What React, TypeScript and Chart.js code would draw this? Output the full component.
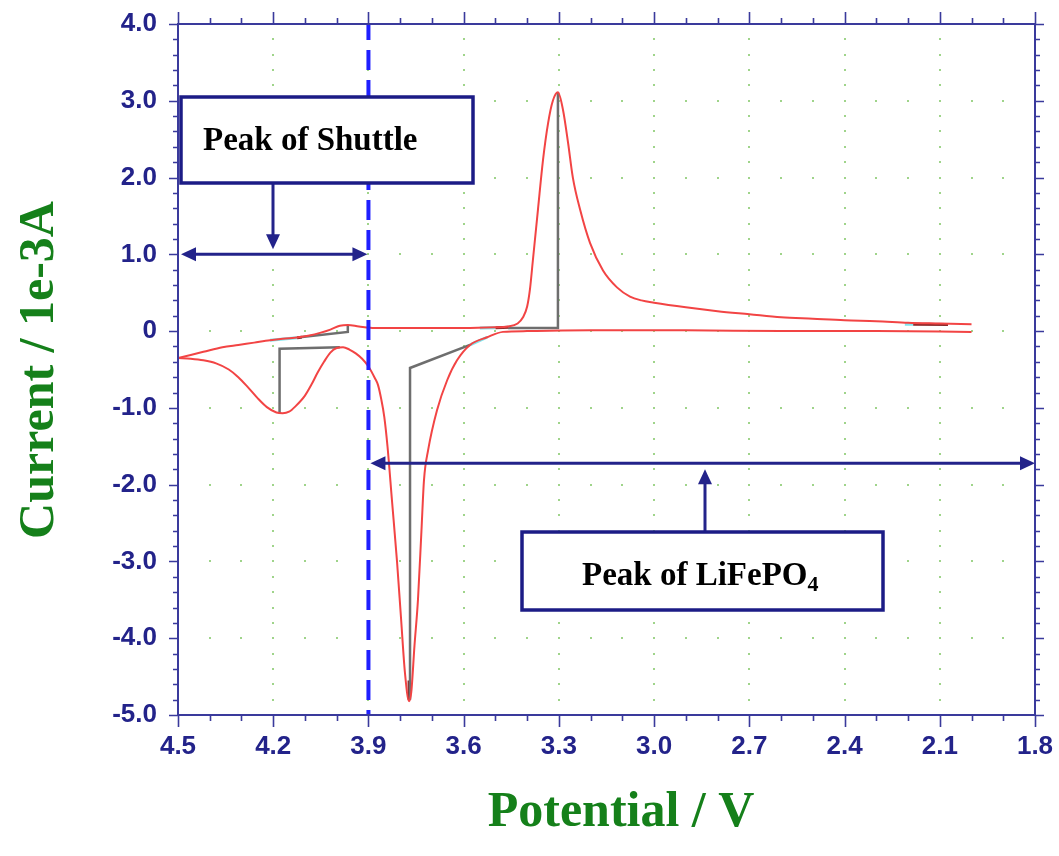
import React, { useEffect, useRef } from "react";
import { Chart, registerables } from "chart.js";

Chart.register(...registerables);

// Axis tick values
const xTicks = [4.5, 4.2, 3.9, 3.6, 3.3, 3.0, 2.7, 2.4, 2.1, 1.8];
const yTicks = [4, 3, 2, 1, 0, -1, -2, -3, -4, -5];

// Sweep from 4.5 V down to 2.0 V (cathodic branch)
const sweepDownPotential = [
  4.5, 4.46, 4.42, 4.38, 4.34, 4.31, 4.28, 4.25, 4.22, 4.19, 4.17, 4.15, 4.13, 4.1, 4.08, 4.06,
  4.04, 4.02, 4.0, 3.98, 3.96, 3.94, 3.92, 3.9, 3.88, 3.87, 3.86, 3.85, 3.84, 3.826, 3.81, 3.797,
  3.785, 3.772, 3.765, 3.755, 3.744, 3.733, 3.725, 3.712, 3.684, 3.652, 3.621, 3.58, 3.526, 3.476,
  3.4, 3.2, 2.9, 2.6, 2.3, 2.0,
];
const sweepDownCurrent = [
  -0.35, -0.36, -0.38, -0.42, -0.5, -0.6, -0.73, -0.87, -0.99, -1.06, -1.07, -1.05, -0.98, -0.84,
  -0.7, -0.54, -0.4, -0.28, -0.22, -0.21, -0.24, -0.29, -0.36, -0.46, -0.61, -0.7, -0.88, -1.12,
  -1.5, -2.2, -3.0, -3.76, -4.45, -4.82, -4.7, -4.1, -3.5, -2.6, -1.94, -1.55, -1.03, -0.64, -0.38,
  -0.18, -0.08, -0.01, 0.0, 0.01, 0.01, 0.0, 0.0, -0.01,
];

// Sweep from 2.0 V back up to 4.5 V (anodic branch)
const sweepUpPotential = [
  2.0, 2.1, 2.2, 2.3, 2.4, 2.5, 2.6, 2.7, 2.8, 2.9, 3.0, 3.04, 3.076, 3.117, 3.161, 3.202, 3.233,
  3.256, 3.271, 3.287, 3.303, 3.319, 3.334, 3.35, 3.366, 3.382, 3.391, 3.4, 3.413, 3.43, 3.46, 3.5,
  3.6, 3.7, 3.8, 3.88, 3.93, 3.965, 3.99, 4.02, 4.05, 4.09, 4.12, 4.17, 4.21, 4.26, 4.31, 4.36,
  4.42, 4.46, 4.5,
];
const sweepUpCurrent = [
  0.09, 0.1, 0.11, 0.13, 0.14, 0.16, 0.18, 0.22, 0.26, 0.31, 0.37, 0.4, 0.45, 0.57, 0.79, 1.15,
  1.58, 2.0, 2.45, 2.88, 3.11, 3.0, 2.71, 2.23, 1.58, 0.92, 0.55, 0.32, 0.18, 0.1, 0.06, 0.05,
  0.04, 0.04, 0.04, 0.04, 0.06, 0.08, 0.07, 0.02, -0.02, -0.06, -0.08, -0.1, -0.12, -0.15, -0.18,
  -0.21, -0.27, -0.31, -0.35,
];

// Peak baselines drawn by the analysis software (gray)
const baselinePotential = [4.18, 4.18, 3.99, null, 4.116, 3.965, 3.965, null, 3.769, 3.769, 3.58, null, 3.303, 3.303, 3.46];
const baselineCurrent = [-1.07, -0.23, -0.21, null, -0.08, -0.01, 0.08, null, -4.8, -0.48, -0.18, null, 3.11, 0.04, 0.04];

// Baseline anchor markers (cyan)
const anchorPotential = [4.21, 4.125, null, 3.58, 3.526, null, 3.549, 3.501, null, 2.21, 2.184];
const anchorCurrent = [-0.12, -0.085, null, -0.18, -0.08, null, 0.04, 0.045, null, 0.09, 0.088];

// Baseline anchor markers (dark red)
const anchorDarkPotential = [4.125, 4.11, null, 3.5, 3.455, null, 2.184, 2.074, null, 3.772, 3.772];
const anchorDarkCurrent = [-0.085, -0.08, null, 0.045, 0.05, null, 0.088, 0.085, null, -4.55, -4.8];

// Annotation positions (data units)
const shuttleRange = [4.5, 3.9];
const shuttleArrowLevel = 1.0;
const lfpRange = [3.9, 1.8];
const lfpArrowLevel = -1.72;
const dividerPotential = 3.9;

const zip = (xs: (number | null)[], ys: (number | null)[]) =>
  xs.map((x, i) => ({ x: x as number, y: ys[i] as number }));

const AXIS = "#3a3a9c";
const NAVY = "#23238a";
const TICK_FONT = { family: '"Liberation Sans", Arial, sans-serif', size: 26, weight: "bold" as const };

function drawArrowHead(ctx: CanvasRenderingContext2D, tx: number, ty: number, dx: number, dy: number) {
  const len = 15;
  const hw = 7;
  const l = Math.hypot(dx, dy);
  const ux = dx / l;
  const uy = dy / l;
  ctx.beginPath();
  ctx.moveTo(tx, ty);
  ctx.lineTo(tx - ux * len - uy * hw, ty - uy * len + ux * hw);
  ctx.lineTo(tx - ux * len + uy * hw, ty - uy * len - ux * hw);
  ctx.closePath();
  ctx.fill();
}

function drawArrow(ctx: CanvasRenderingContext2D, x1: number, y1: number, x2: number, y2: number, both: boolean) {
  const dx = x2 - x1;
  const dy = y2 - y1;
  const l = Math.hypot(dx, dy);
  const ux = dx / l;
  const uy = dy / l;
  ctx.beginPath();
  ctx.moveTo(both ? x1 + ux * 10 : x1, both ? y1 + uy * 10 : y1);
  ctx.lineTo(x2 - ux * 10, y2 - uy * 10);
  ctx.stroke();
  drawArrowHead(ctx, x2, y2, dx, dy);
  if (both) drawArrowHead(ctx, x1, y1, -dx, -dy);
}

const decorPlugin = {
  id: "decor",
  beforeDatasetsDraw(chart: any) {
    const { ctx, scales } = chart;
    const x = scales.x;
    const y = scales.y;
    ctx.save();
    ctx.fillStyle = "#9fd48a";
    for (const xv of xTicks) {
      if (xv === 4.5 || xv === 1.8) continue;
      const px = Math.round(x.getPixelForValue(xv));
      for (let k = -24; k <= 19; k++) {
        const py = Math.round(y.getPixelForValue(k * 0.2));
        ctx.fillRect(px - 1, py - 1, 2, 2);
      }
    }
    for (const yv of yTicks) {
      if (yv === 4 || yv === -5) continue;
      const py = Math.round(y.getPixelForValue(yv));
      for (let k = 19; k <= 44; k++) {
        const px = Math.round(x.getPixelForValue(k * 0.1));
        ctx.fillRect(px - 1, py - 1, 2, 2);
      }
    }
    ctx.restore();
  },
  afterDatasetsDraw(chart: any) {
    const { ctx, chartArea: a, scales } = chart;
    const x = scales.x;
    const y = scales.y;
    ctx.save();

    // dashed divider
    const dvx = x.getPixelForValue(dividerPotential);
    ctx.strokeStyle = "#1f1fff";
    ctx.lineWidth = 4;
    ctx.setLineDash([20, 10]);
    ctx.lineDashOffset = 4;
    ctx.beginPath();
    ctx.moveTo(dvx, a.top);
    ctx.lineTo(dvx, a.bottom);
    ctx.stroke();
    ctx.setLineDash([]);

    // arrows
    ctx.strokeStyle = NAVY;
    ctx.fillStyle = NAVY;
    ctx.lineWidth = 3;
    const sy = y.getPixelForValue(shuttleArrowLevel);
    drawArrow(ctx, x.getPixelForValue(shuttleRange[0]) + 3, sy, x.getPixelForValue(shuttleRange[1]) - 1, sy, true);
    drawArrow(ctx, 273, 183, 273, sy - 5, false);
    const ly = y.getPixelForValue(lfpArrowLevel);
    drawArrow(ctx, x.getPixelForValue(lfpRange[0]) + 2, ly, x.getPixelForValue(lfpRange[1]), ly, true);
    drawArrow(ctx, 705, 531, 705, ly + 6, false);

    // boxes
    ctx.lineWidth = 3.5;
    ctx.strokeStyle = "#1c1c86";
    ctx.fillStyle = "#ffffff";
    ctx.fillRect(181, 97, 292, 86);
    ctx.strokeRect(181, 97, 292, 86);
    ctx.fillRect(522, 532, 361, 78);
    ctx.strokeRect(522, 532, 361, 78);

    ctx.fillStyle = "#000000";
    ctx.textBaseline = "alphabetic";
    ctx.textAlign = "left";
    ctx.font = 'bold 33px "Liberation Serif", "Times New Roman", serif';
    ctx.fillText("Peak of Shuttle", 203, 150);
    const main = "Peak of LiFePO";
    ctx.fillText(main, 582, 585);
    const w = ctx.measureText(main).width;
    ctx.font = 'bold 22px "Liberation Serif", "Times New Roman", serif';
    ctx.fillText("4", 582 + w, 591);

    // frame
    ctx.strokeStyle = AXIS;
    ctx.lineWidth = 2;
    ctx.strokeRect(a.left, a.top, a.right - a.left, a.bottom - a.top);
    ctx.lineWidth = 1.6;
    ctx.beginPath();
    for (let k = -25; k <= 20; k++) {
      const py = Math.round(y.getPixelForValue(k * 0.2)) + 0.5;
      const major = k % 5 === 0;
      const len = major ? 9 : 5;
      ctx.moveTo(a.left - len, py);
      ctx.lineTo(a.left, py);
      ctx.moveTo(a.right, py);
      ctx.lineTo(a.right + len, py);
    }
    for (let k = 18; k <= 45; k++) {
      const px = Math.round(x.getPixelForValue(k * 0.1)) + 0.5;
      const major = k % 3 === 0;
      const len = major ? 12 : 6;
      ctx.moveTo(px, a.bottom);
      ctx.lineTo(px, a.bottom + len);
      ctx.moveTo(px, a.top);
      ctx.lineTo(px, a.top - len);
    }
    ctx.stroke();

    // axis titles
    ctx.fillStyle = "#15801a";
    ctx.font = 'bold 50px "Liberation Serif", "Times New Roman", serif';
    ctx.textAlign = "center";
    ctx.fillText("Potential / V", 621, 826);
    ctx.save();
    ctx.translate(53, 370);
    ctx.rotate(-Math.PI / 2);
    ctx.fillText("Current / 1e-3A", 0, 0);
    ctx.restore();

    ctx.restore();
  },
};

export default function App() {
  const ref = useRef<HTMLCanvasElement | null>(null);
  useEffect(() => {
    document.body.style.margin = "0";
    const canvas = ref.current;
    if (!canvas) return;
    const chart = new Chart(canvas, {
      type: "scatter",
      data: {
        datasets: [
          {
            data: zip(sweepDownPotential, sweepDownCurrent),
            showLine: true,
            borderColor: "#f24444",
            borderWidth: 2,
            pointRadius: 0,
            cubicInterpolationMode: "monotone",
          },
          {
            data: zip(sweepUpPotential, sweepUpCurrent),
            showLine: true,
            borderColor: "#f24444",
            borderWidth: 2,
            pointRadius: 0,
            cubicInterpolationMode: "monotone",
          },
          {
            data: zip(baselinePotential, baselineCurrent),
            showLine: true,
            borderColor: "#6e6e6e",
            borderWidth: 2.5,
            pointRadius: 0,
            tension: 0,
            spanGaps: false,
          },
          {
            data: zip(anchorPotential, anchorCurrent),
            showLine: true,
            borderColor: "#7ee6ee",
            borderWidth: 3,
            pointRadius: 0,
            tension: 0,
            spanGaps: false,
          },
          {
            data: zip(anchorDarkPotential, anchorDarkCurrent),
            showLine: true,
            borderColor: "#8a2a2a",
            borderWidth: 3,
            pointRadius: 0,
            tension: 0,
            spanGaps: false,
          },
        ],
      } as any,
      options: {
        responsive: false,
        animation: false,
        devicePixelRatio: 1,
        layout: { padding: { top: 24, right: 24, left: 0, bottom: 0 } },
        plugins: { legend: { display: false }, tooltip: { enabled: false } },
        scales: {
          x: {
            type: "linear",
            reverse: true,
            min: 1.8,
            max: 4.5,
            grid: { display: false, drawTicks: false },
            border: { display: false },
            afterBuildTicks: (s: any) => {
              s.ticks = xTicks.map((v) => ({ value: v }));
            },
            afterFit: (s: any) => {
              s.height = 141;
              s.paddingLeft = 0;
              s.paddingRight = 0;
            },
            ticks: {
              autoSkip: false,
              maxRotation: 0,
              padding: 16,
              color: NAVY,
              font: TICK_FONT,
              callback: (v: any) => Number(v).toFixed(1),
            },
          },
          y: {
            type: "linear",
            min: -5,
            max: 4,
            grid: { display: false, drawTicks: false },
            border: { display: false },
            afterBuildTicks: (s: any) => {
              s.ticks = yTicks.map((v) => ({ value: v }));
            },
            afterFit: (s: any) => {
              s.width = 178;
              s.paddingTop = 0;
              s.paddingBottom = 0;
            },
            ticks: {
              autoSkip: false,
              padding: 21,
              color: NAVY,
              font: TICK_FONT,
              callback: (v: any) => (Number(v) === 0 ? "0" : Number(v).toFixed(1)),
            },
          },
        },
      } as any,
      plugins: [decorPlugin],
    });
    return () => chart.destroy();
  }, []);
  return <canvas ref={ref} width={1059} height={856} style={{ display: "block" }} />;
}
